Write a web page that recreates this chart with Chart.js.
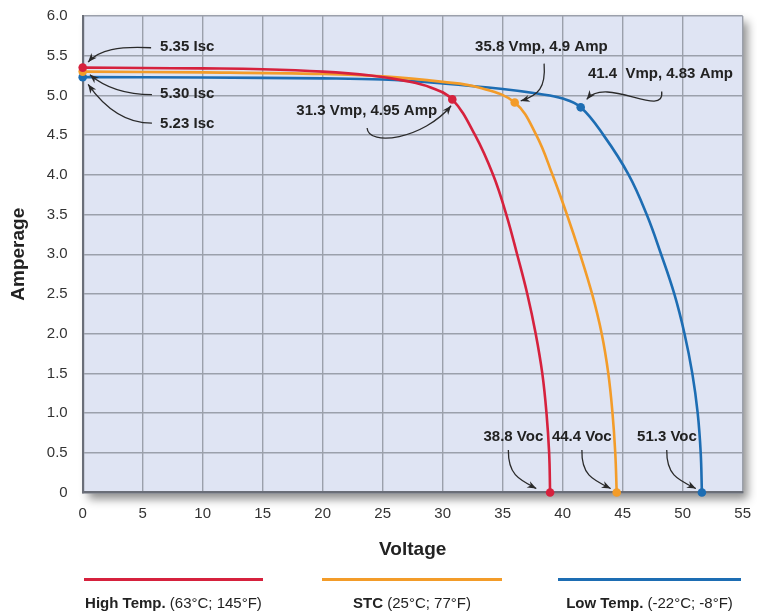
<!DOCTYPE html>
<html lang="en">
<head>
<meta charset="UTF-8">
<title>I-V curves at three temperatures</title>
<script src="https://cdn.jsdelivr.net/npm/chart.js@4.4.6/dist/chart.umd.min.js"></script>
<style>
  * { box-sizing: border-box; margin: 0; padding: 0; }
  body { width: 757px; height: 613px; background: #fff; overflow: hidden; position: relative;
         font-family: "Liberation Sans", Arial, sans-serif; color: #222; }
  #wrap { position: absolute; left: 0; top: 0; width: 757px; height: 613px; }
  .leg { position: absolute; top: 594px; font-size: 15px; text-align: center; white-space: nowrap; }
  .leg b { font-weight: 700; }
  .swatch { position: absolute; top: 578px; height: 3px; }
</style>
</head>
<body>
<div id="wrap"><canvas id="chart" width="757" height="613"></canvas></div>
<div class="swatch" style="left:84px;width:179px;background:#d6213d"></div>
<div class="swatch" style="left:322px;width:180px;background:#f39c29"></div>
<div class="swatch" style="left:558px;width:183px;background:#1d6db3"></div>
<div class="leg" style="left:84px;width:179px"><b>High Temp.</b> (63°C; 145°F)</div>
<div class="leg" style="left:322px;width:180px"><b>STC</b> (25°C; 77°F)</div>
<div class="leg" style="left:558px;width:183px"><b>Low Temp.</b> (-22°C; -8°F)</div>
<script>
// ── Data (volts, amps) ──────────────────────────────────────────────────────
const highV = [0, 5, 10, 15, 20, 24, 27, 29, 30.8, 32.7, 34.2, 35.3, 36.2, 37.05, 37.75, 38.3, 38.65, 38.87, 38.95];
const highI = [5.35, 5.345, 5.34, 5.33, 5.3, 5.25, 5.18, 5.1, 4.95, 4.5, 4.0, 3.5, 3.0, 2.5, 2.0, 1.5, 1.0, 0.5, 0];

const stcV = [0, 10, 20, 25, 30, 33, 36.0, 37.8, 39.15, 40.35, 41.45, 42.45, 43.25, 43.8, 44.15, 44.38, 44.5];
const stcI = [5.3, 5.29, 5.27, 5.24, 5.17, 5.1, 4.91, 4.5, 4.0, 3.5, 3.0, 2.5, 2.0, 1.5, 1.0, 0.5, 0];

const lowV = [0, 10, 20, 25, 30, 35, 38, 40, 41.5, 43.4, 45.5, 47.0, 48.2, 49.3, 50.15, 50.8, 51.25, 51.5, 51.6];
const lowI = [5.23, 5.225, 5.215, 5.2, 5.15, 5.08, 5.02, 4.96, 4.85, 4.5, 4.0, 3.5, 3.0, 2.5, 2.0, 1.5, 1.0, 0.5, 0];

// Isc, max power point, Voc markers
const highMarkV = [0, 30.8, 38.95];
const highMarkI = [5.35, 4.95, 0];
const stcMarkV = [0, 36.0, 44.5];
const stcMarkI = [5.3, 4.91, 0];
const lowMarkV = [0, 41.5, 51.6];
const lowMarkI = [5.23, 4.85, 0];

const xTicks = [0, 5, 10, 15, 20, 25, 30, 35, 40, 45, 50, 55];
const yTicks = [0, 0.5, 1, 1.5, 2, 2.5, 3, 3.5, 4, 4.5, 5, 5.5, 6];

const RED = '#d6213d', ORANGE = '#f39c29', BLUE = '#1d6db3';
const FONT = '"Liberation Sans", Arial, sans-serif';

// callout labels: text, left x, centre y (data units)
const callouts = [
  { text: '5.35 Isc', x: 6.45, y: 5.61 },
  { text: '5.30 Isc', x: 6.45, y: 5.015 },
  { text: '5.23 Isc', x: 6.45, y: 4.64 },
  { text: '35.8 Vmp, 4.9 Amp', x: 32.7, y: 5.61 },
  { text: '41.4  Vmp, 4.83 Amp', x: 42.1, y: 5.27 },
  { text: '31.3 Vmp, 4.95 Amp', x: 17.8, y: 4.81 },
  { text: '38.8 Voc', x: 33.4, y: 0.70 },
  { text: '44.4 Voc', x: 39.1, y: 0.70 },
  { text: '51.3 Voc', x: 46.2, y: 0.70 },
];

// arrows as cubic curves in data units: start, ctrl1, ctrl2, end (arrow head at end)
const arrows = [
  [[5.7, 5.60], [3.0, 5.62], [1.4, 5.58], [0.45, 5.42]],
  [[5.77, 5.01], [3.8, 5.01], [2.0, 5.08], [0.6, 5.26]],
  [[5.77, 4.65], [3.6, 4.65], [1.8, 4.85], [0.45, 5.14]],
  [[38.45, 5.40], [38.6, 5.10], [38.0, 5.0], [36.5, 4.93]],
  [[48.25, 5.05], [48.5, 4.70], [43.6, 5.25], [42.0, 4.95]],
  [[23.7, 4.59], [23.8, 4.35], [28.4, 4.45], [30.7, 4.87]],
  [[35.47, 0.535], [35.45, 0.22], [36.4, 0.16], [37.8, 0.05]],
  [[41.6, 0.535], [41.55, 0.22], [42.5, 0.16], [44.0, 0.05]],
  [[48.67, 0.535], [48.64, 0.22], [49.6, 0.16], [51.1, 0.05]],
];

const pts = (xs, ys) => xs.map((x, i) => ({ x, y: ys[i] }));

function line(label, xs, ys, color) {
  return {
    label, data: pts(xs, ys), showLine: true, borderColor: color, backgroundColor: color,
    borderWidth: 2.6, pointRadius: 0, tension: 0.4, clip: false, order: 2,
  };
}
function marks(xs, ys, color) {
  return {
    label: '', data: pts(xs, ys), showLine: false, pointRadius: 4.3, pointHoverRadius: 4.3,
    pointBackgroundColor: color, pointBorderWidth: 0, clip: false, order: 1,
  };
}

// ── plot background with drop shadow, axis titles, callouts ───────────────
const panel = {
  id: 'panel',
  beforeDraw(chart) {
    const { ctx, chartArea: a } = chart;
    ctx.save();
    ctx.shadowColor = 'rgba(0,0,0,0.45)';
    ctx.shadowBlur = 9;
    ctx.shadowOffsetX = 5;
    ctx.shadowOffsetY = 6;
    ctx.fillStyle = '#dfe4f3';
    ctx.fillRect(a.left, a.top, a.right - a.left, a.bottom - a.top);
    ctx.restore();
  },
  afterDraw(chart) {
    const { ctx, chartArea: a } = chart;
    ctx.save();
    ctx.fillStyle = '#222';
    ctx.font = `bold 19px ${FONT}`;
    ctx.textAlign = 'center';
    ctx.textBaseline = 'middle';
    ctx.fillText('Voltage', (a.left + a.right) / 2, 550);
    ctx.translate(19, (a.top + a.bottom) / 2);
    ctx.rotate(-Math.PI / 2);
    ctx.fillText('Amperage', 0, 0);
    ctx.restore();
  },
  afterDatasetsDraw(chart) {
    const { ctx, scales: { x, y } } = chart;
    ctx.save();
    ctx.fillStyle = '#222';
    ctx.font = `bold 15px ${FONT}`;
    ctx.textBaseline = 'middle';
    ctx.textAlign = 'left';
    callouts.forEach(c => ctx.fillText(c.text, x.getPixelForValue(c.x), y.getPixelForValue(c.y)));

    ctx.strokeStyle = '#2a2a2a';
    ctx.fillStyle = '#2a2a2a';
    ctx.lineWidth = 1.3;
    arrows.forEach(a => {
      const p = a.map(([vx, vy]) => [x.getPixelForValue(vx), y.getPixelForValue(vy)]);
      ctx.beginPath();
      ctx.moveTo(p[0][0], p[0][1]);
      ctx.bezierCurveTo(p[1][0], p[1][1], p[2][0], p[2][1], p[3][0], p[3][1]);
      ctx.stroke();
      // arrow head along the end tangent
      const ang = Math.atan2(p[3][1] - p[2][1], p[3][0] - p[2][0]);
      const L = 9, W = 3.6;
      const [ex, ey] = p[3];
      ctx.beginPath();
      ctx.moveTo(ex, ey);
      ctx.lineTo(ex - L * Math.cos(ang) + W * Math.sin(ang), ey - L * Math.sin(ang) - W * Math.cos(ang));
      ctx.lineTo(ex - L * 0.7 * Math.cos(ang), ey - L * 0.7 * Math.sin(ang));
      ctx.lineTo(ex - L * Math.cos(ang) - W * Math.sin(ang), ey - L * Math.sin(ang) + W * Math.cos(ang));
      ctx.closePath();
      ctx.fill();
    });
    ctx.restore();
  },
};

new Chart(document.getElementById('chart'), {
  type: 'scatter',
  data: {
    datasets: [
      line('High Temp.', highV, highI, RED),
      line('STC', stcV, stcI, ORANGE),
      line('Low Temp.', lowV, lowI, BLUE),
      marks(highMarkV, highMarkI, RED),
      marks(stcMarkV, stcMarkI, ORANGE),
      marks(lowMarkV, lowMarkI, BLUE),
    ],
  },
  options: {
    responsive: false,
    animation: false,
    events: [],
    layout: { padding: { top: 16, right: 14.3, left: 0, bottom: 0 } },
    plugins: { legend: { display: false }, tooltip: { enabled: false } },
    scales: {
      x: {
        type: 'linear', min: 0, max: 55,
        afterFit: s => { s.height = 120.5; s.paddingLeft = 0; s.paddingRight = 0; },
        afterBuildTicks: s => { s.ticks = xTicks.map(value => ({ value })); },
        ticks: { color: '#333', font: { family: FONT, size: 15 }, padding: 12, maxRotation: 0 },
        grid: { color: '#9ba0ab', lineWidth: 1.4, drawTicks: false },
        border: { color: '#6a6e78', width: 2.2 },
      },
      y: {
        type: 'linear', min: 0, max: 6,
        afterFit: s => { s.width = 82.7; s.paddingTop = 0; s.paddingBottom = 0; },
        afterBuildTicks: s => { s.ticks = yTicks.map(value => ({ value })); },
        ticks: {
          color: '#333', font: { family: FONT, size: 15 }, padding: 15,
          callback: v => v === 0 ? '0' : v.toFixed(1),
        },
        grid: { color: '#9ba0ab', lineWidth: 1.4, drawTicks: false },
        border: { color: '#6a6e78', width: 2.2 },
      },
    },
  },
  plugins: [panel],
});
</script>
</body>
</html>
